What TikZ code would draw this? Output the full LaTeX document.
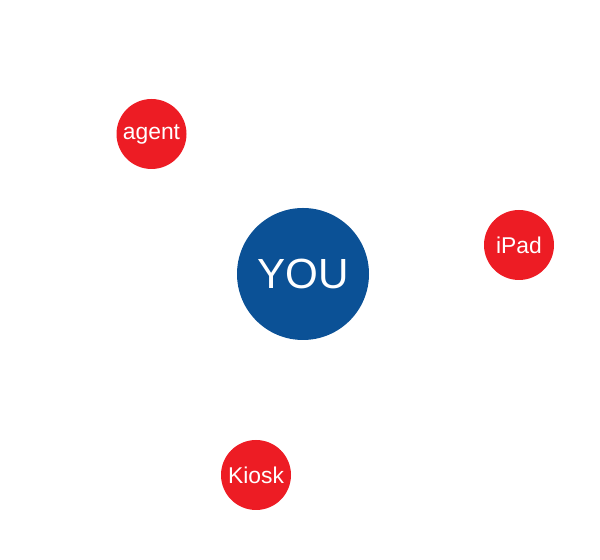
\documentclass[tikz,border=0pt]{standalone}
\usepackage{fontspec}
\setmainfont{Liberation Sans}
\usetikzlibrary{positioning}
\definecolor{YouBlue}{RGB}{11,81,150}
\definecolor{ChannelRed}{RGB}{237,28,36}

\begin{document}
\begin{tikzpicture}[
  bubble/.style={
    circle,
    draw=none,
    align=center,
    text=white,
    inner sep=0pt
  },
  yoububble/.style={bubble, fill=YouBlue, minimum size=2.64cm,
    font=\fontsize{24}{28}\selectfont},
  channelbubble/.style={bubble, fill=ChannelRed, minimum size=1.4cm,
    font=\fontsize{13}{15}\selectfont}
]

% Canvas
\useasboundingbox (0,0) rectangle (12,11.2);

% Nodes
\node[yoububble]     (you)   at (6.06,5.72)  {YOU};
\node[channelbubble] (agent) at (3.03,8.52)  {agent};
\node[channelbubble] (ipad)  at (10.38,6.30) {iPad};
\node[channelbubble] (kiosk) at (5.12,1.70)  {Kiosk};

\end{tikzpicture}
\end{document}
